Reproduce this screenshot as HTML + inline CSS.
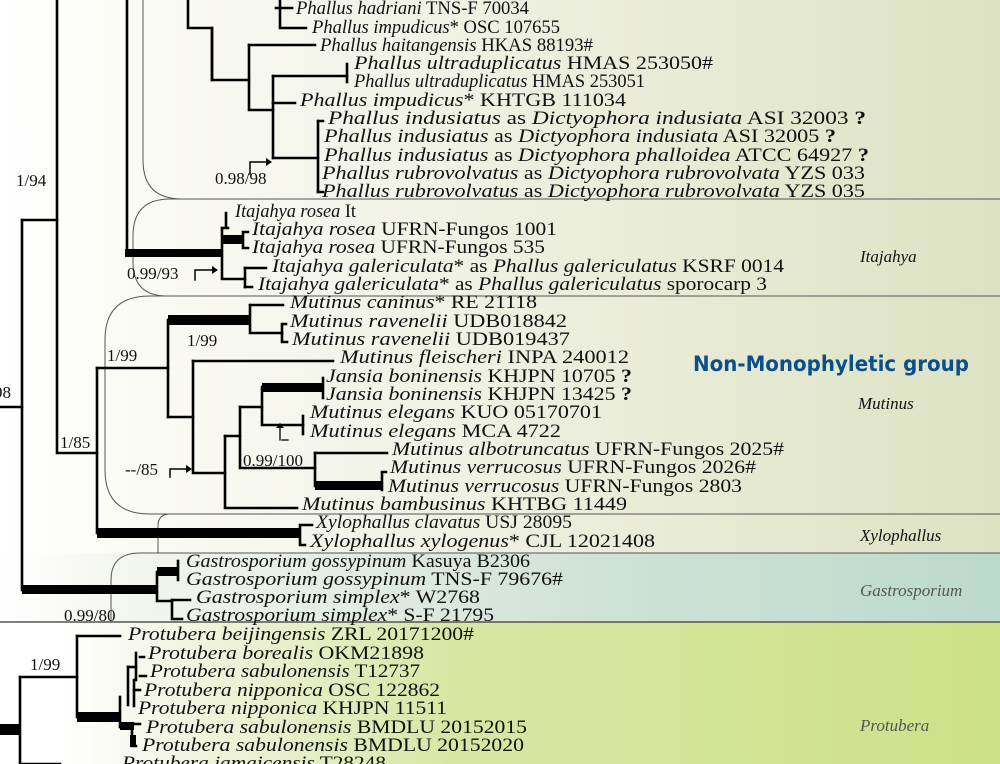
<!DOCTYPE html>
<html><head><meta charset="utf-8"><style>
html,body{margin:0;padding:0;width:1000px;height:764px;overflow:hidden;background:#fff}
svg{display:block}
text{font-family:"Liberation Serif",serif;font-size:19px;fill:#111}
.i{font-style:italic}
.s{font-size:17px}
</style></head><body>
<svg width="1000" height="764" viewBox="0 0 1000 764" xmlns="http://www.w3.org/2000/svg">
<defs>
<linearGradient id="g1" x1="0" x2="1" y1="0" y2="0">
<stop offset="0" stop-color="#ffffff"/><stop offset="0.12" stop-color="#fbfbf6"/><stop offset="1" stop-color="#dde2c3"/></linearGradient>
<linearGradient id="g2" x1="0" x2="1" y1="0" y2="0">
<stop offset="0" stop-color="#ffffff"/><stop offset="0.12" stop-color="#f4f6f0"/><stop offset="0.6" stop-color="#cfe2d6"/><stop offset="1" stop-color="#bcdacc"/></linearGradient>
<linearGradient id="g3" x1="0" x2="1" y1="0" y2="0">
<stop offset="0" stop-color="#ffffff"/><stop offset="0.06" stop-color="#ffffff"/><stop offset="0.18" stop-color="#f2f5e2"/><stop offset="0.45" stop-color="#d8e6a4"/><stop offset="1" stop-color="#cde188"/></linearGradient>
</defs>
<rect x="0" y="0" width="1000" height="553" fill="url(#g1)"/>
<rect x="0" y="553" width="1000" height="69" fill="url(#g2)"/>
<rect x="0" y="622" width="1000" height="142" fill="url(#g3)"/>
<!-- group boxes -->
<g fill="none" stroke="#555" stroke-width="1">
<path d="M143,0 V160 Q143,199 182,199 H1000"/>
<path d="M1000,199 H170 Q133,199 133,236 V262 Q133,296 167,296 H1000"/>
<path d="M1000,296 H150 Q105,296 105,340 V470 Q105,514 150,514 H1000"/>
<path d="M1000,514 H170 Q158,514 158,526 V553"/>
<path d="M1000,553 H140 Q111,553 111,580 V622"/>
<line x1="0" y1="622" x2="1000" y2="622" stroke-width="1.5"/>
</g>
<!-- tree -->
<g stroke="#000" stroke-width="2.6" fill="none" stroke-linecap="square">
<!-- backbone -->
<path d="M57,0 V453 H97"/>
<path d="M22,220 H57"/>
<path d="M22,220 V590"/>
<path d="M0,407 H22"/>
<path d="M127,0 V253"/>
<!-- phallus -->
<path d="M188,0 V28 H212 V80 H249"/>
<path d="M212,28 V80"/>
<path d="M280,0 V28 H306"/>
<path d="M276,8 H292"/>
<path d="M249,45 H315"/>
<path d="M249,45 V110 H273"/>
<path d="M273,76 V158"/>
<path d="M273,76 H347"/>
<path d="M347,64 V82"/>
<path d="M273,103 H295"/>
<path d="M273,158 H318"/>
<path d="M318,121 V192"/>
<path d="M318,121 H323 M318,192 H323"/>
<!-- itajahya -->
<path d="M222,228 V279 H245"/>
<path d="M222,228 H228 M226,213 V228"/>
<path d="M245,268 V287"/>
<path d="M245,268 H266 M245,287 H252"/>
<path d="M243,232 V248 M243,232 H248 M243,248 H248"/>
<!-- mutinus -->
<path d="M97,368 V533"/>
<path d="M97,368 H168 V417"/>
<path d="M168,320 V368"/>
<path d="M250,305 V333 H282"/>
<path d="M250,305 H283"/>
<path d="M282,324 V342 M282,324 H286 M282,342 H287"/>
<path d="M168,417 H193"/>
<path d="M193,361 V473 H225"/>
<path d="M193,361 H333"/>
<path d="M225,436 V508 H297"/>
<path d="M225,436 H240 V468 H315"/>
<path d="M240,407 V436"/>
<path d="M240,407 H262 V425 H303"/>
<path d="M262,387 V407"/>
<path d="M323,378 V398"/>
<path d="M303,416 V434"/>
<path d="M315,453 V486"/>
<path d="M315,453 H387"/>
<path d="M382,472 V490 M382,472 H386"/>
<!-- xylophallus -->
<path d="M300,525 V545 M300,525 H312 M300,545 H305"/>
<!-- gastrosporium -->
<path d="M157,572 V601 H172"/>
<path d="M178,561 V580"/>
<path d="M172,600 V619 H182"/>
<path d="M172,600 H190"/>
<!-- protubera -->
<path d="M20,677 V764"/>
<path d="M20,677 H77 V717"/>
<path d="M77,636 V677"/>
<path d="M77,636 H120"/>
<path d="M120,697 V727"/>
<path d="M128,667 V705"/>
<path d="M128,667 H136"/>
<path d="M136,653 V680"/>
<path d="M140,657 H144 M140,676 H146"/>
<path d="M134,680 V706"/>
<path d="M134,690 H140"/>
<path d="M132,724 V746 M132,724 H140 M132,746 H136"/>
<path d="M20,764 H60"/>
<!-- arrows -->
<path d="M250,174 V162 H266" stroke-width="1.5"/>
<path d="M195,280 V270 H212" stroke-width="1.5"/>
<path d="M170,477 V469 H186" stroke-width="1.5"/>
<path d="M280,440 V428" stroke-width="1.3"/>
<path d="M282,440 H288" stroke-width="1.3"/>
</g>
<!-- thick branches -->
<g fill="#000">
<rect x="125" y="249" width="98" height="8"/>
<rect x="222" y="235" width="22" height="9"/>
<rect x="168" y="315" width="83" height="10"/>
<rect x="262" y="383" width="62" height="9"/>
<rect x="315" y="481" width="68" height="9"/>
<rect x="97" y="528" width="204" height="10"/>
<rect x="22" y="585" width="136" height="9"/>
<rect x="157" y="567" width="22" height="9"/>
<rect x="77" y="712" width="44" height="10"/>
<rect x="0" y="724" width="21" height="11"/>
<rect x="120" y="722" width="14" height="8"/>
<rect x="130" y="735" width="6" height="12"/>
<polygon points="266,158 272,162 266,166"/>
<polygon points="212,266 218,270 212,274"/>
<polygon points="186,465 192,469 186,473"/>
<polygon points="276,428 280,423 284,428"/>
</g>
<!-- support values -->
<text class="s" x="16" y="186">1/94</text>
<text class="s" x="-6" y="398">98</text>
<text class="s" x="215" y="184">0.98/98</text>
<text class="s" x="127" y="279">0.99/93</text>
<text class="s" x="107" y="361">1/99</text>
<text class="s" x="187" y="346">1/99</text>
<text class="s" x="60" y="448">1/85</text>
<text class="s" x="125" y="475">--/85</text>
<text class="s" x="243" y="466">0.99/100</text>
<text class="s" x="64" y="621">0.99/80</text>
<text class="s" x="30" y="670">1/99</text>
<!-- taxa -->
<text x="296" y="14" textLength="233" lengthAdjust="spacingAndGlyphs"><tspan class="i">Phallus hadriani</tspan> TNS-F 70034</text>
<text x="312" y="33" textLength="248" lengthAdjust="spacingAndGlyphs"><tspan class="i">Phallus impudicus</tspan>* OSC 107655</text>
<text x="320" y="51" textLength="273" lengthAdjust="spacingAndGlyphs"><tspan class="i">Phallus haitangensis</tspan> HKAS 88193#</text>
<text x="354" y="69" textLength="359" lengthAdjust="spacingAndGlyphs"><tspan class="i">Phallus ultraduplicatus</tspan> HMAS 253050#</text>
<text x="354" y="87" textLength="291" lengthAdjust="spacingAndGlyphs"><tspan class="i">Phallus ultraduplicatus</tspan> HMAS 253051</text>
<text x="300" y="106" textLength="326" lengthAdjust="spacingAndGlyphs"><tspan class="i">Phallus impudicus</tspan>* KHTGB 111034</text>
<text x="328" y="124" textLength="538" lengthAdjust="spacingAndGlyphs"><tspan class="i">Phallus indusiatus</tspan> as <tspan class="i">Dictyophora indusiata</tspan> ASI 32003 <tspan font-weight="bold">?</tspan></text>
<text x="324" y="142" textLength="512" lengthAdjust="spacingAndGlyphs"><tspan class="i">Phallus indusiatus</tspan> as <tspan class="i">Dictyophora indusiata</tspan> ASI 32005 <tspan font-weight="bold">?</tspan></text>
<text x="324" y="161" textLength="545" lengthAdjust="spacingAndGlyphs"><tspan class="i">Phallus indusiatus</tspan> as <tspan class="i">Dictyophora phalloidea</tspan> ATCC 64927 <tspan font-weight="bold">?</tspan></text>
<text x="322" y="179" textLength="543" lengthAdjust="spacingAndGlyphs"><tspan class="i">Phallus rubrovolvatus</tspan> as <tspan class="i">Dictyophora rubrovolvata</tspan> YZS 033</text>
<text x="322" y="197" textLength="543" lengthAdjust="spacingAndGlyphs"><tspan class="i">Phallus rubrovolvatus</tspan> as <tspan class="i">Dictyophora rubrovolvata</tspan> YZS 035</text>
<text x="235" y="217" textLength="121" lengthAdjust="spacingAndGlyphs"><tspan class="i">Itajahya rosea</tspan> It</text>
<text x="252" y="235" textLength="305" lengthAdjust="spacingAndGlyphs"><tspan class="i">Itajahya rosea</tspan> UFRN-Fungos 1001</text>
<text x="252" y="253" textLength="293" lengthAdjust="spacingAndGlyphs"><tspan class="i">Itajahya rosea</tspan> UFRN-Fungos 535</text>
<text x="272" y="272" textLength="512" lengthAdjust="spacingAndGlyphs"><tspan class="i">Itajahya galericulata</tspan>* as <tspan class="i">Phallus galericulatus</tspan> KSRF 0014</text>
<text x="258" y="290" textLength="509" lengthAdjust="spacingAndGlyphs"><tspan class="i">Itajahya galericulata</tspan>* as <tspan class="i">Phallus galericulatus</tspan> sporocarp 3</text>
<text x="290" y="308" textLength="247" lengthAdjust="spacingAndGlyphs"><tspan class="i">Mutinus caninus</tspan>* RE 21118</text>
<text x="290" y="327" textLength="277" lengthAdjust="spacingAndGlyphs"><tspan class="i">Mutinus ravenelii</tspan> UDB018842</text>
<text x="292" y="345" textLength="278" lengthAdjust="spacingAndGlyphs"><tspan class="i">Mutinus ravenelii</tspan> UDB019437</text>
<text x="340" y="363" textLength="289" lengthAdjust="spacingAndGlyphs"><tspan class="i">Mutinus fleischeri</tspan> INPA 240012</text>
<text x="326" y="382" textLength="306" lengthAdjust="spacingAndGlyphs"><tspan class="i">Jansia boninensis</tspan> KHJPN 10705 <tspan font-weight="bold">?</tspan></text>
<text x="326" y="400" textLength="306" lengthAdjust="spacingAndGlyphs"><tspan class="i">Jansia boninensis</tspan> KHJPN 13425 <tspan font-weight="bold">?</tspan></text>
<text x="310" y="418" textLength="292" lengthAdjust="spacingAndGlyphs"><tspan class="i">Mutinus elegans</tspan> KUO 05170701</text>
<text x="310" y="437" textLength="251" lengthAdjust="spacingAndGlyphs"><tspan class="i">Mutinus elegans</tspan> MCA 4722</text>
<text x="392" y="455" textLength="392" lengthAdjust="spacingAndGlyphs"><tspan class="i">Mutinus albotruncatus</tspan> UFRN-Fungos 2025#</text>
<text x="390" y="473" textLength="366" lengthAdjust="spacingAndGlyphs"><tspan class="i">Mutinus verrucosus</tspan> UFRN-Fungos 2026#</text>
<text x="388" y="492" textLength="354" lengthAdjust="spacingAndGlyphs"><tspan class="i">Mutinus verrucosus</tspan> UFRN-Fungos 2803</text>
<text x="302" y="510" textLength="325" lengthAdjust="spacingAndGlyphs"><tspan class="i">Mutinus bambusinus</tspan> KHTBG 11449</text>
<text x="316" y="528" textLength="256" lengthAdjust="spacingAndGlyphs"><tspan class="i">Xylophallus clavatus</tspan> USJ 28095</text>
<text x="310" y="547" textLength="345" lengthAdjust="spacingAndGlyphs"><tspan class="i">Xylophallus xylogenus</tspan>* CJL 12021408</text>
<text x="186" y="567" textLength="344" lengthAdjust="spacingAndGlyphs"><tspan class="i">Gastrosporium gossypinum</tspan> Kasuya B2306</text>
<text x="186" y="585" textLength="377" lengthAdjust="spacingAndGlyphs"><tspan class="i">Gastrosporium gossypinum</tspan> TNS-F 79676#</text>
<text x="196" y="603" textLength="284" lengthAdjust="spacingAndGlyphs"><tspan class="i">Gastrosporium simplex</tspan>* W2768</text>
<text x="186" y="621" textLength="308" lengthAdjust="spacingAndGlyphs"><tspan class="i">Gastrosporium simplex</tspan>* S-F 21795</text>
<text x="128" y="640" textLength="346" lengthAdjust="spacingAndGlyphs"><tspan class="i">Protubera beijingensis</tspan> ZRL 20171200#</text>
<text x="148" y="659" textLength="276" lengthAdjust="spacingAndGlyphs"><tspan class="i">Protubera borealis</tspan> OKM21898</text>
<text x="150" y="677" textLength="270" lengthAdjust="spacingAndGlyphs"><tspan class="i">Protubera sabulonensis</tspan> T12737</text>
<text x="144" y="696" textLength="296" lengthAdjust="spacingAndGlyphs"><tspan class="i">Protubera nipponica</tspan> OSC 122862</text>
<text x="138" y="714" textLength="309" lengthAdjust="spacingAndGlyphs"><tspan class="i">Protubera nipponica</tspan> KHJPN 11511</text>
<text x="146" y="733" textLength="381" lengthAdjust="spacingAndGlyphs"><tspan class="i">Protubera sabulonensis</tspan> BMDLU 20152015</text>
<text x="142" y="751" textLength="382" lengthAdjust="spacingAndGlyphs"><tspan class="i">Protubera sabulonensis</tspan> BMDLU 20152020</text>
<text x="122" y="769" textLength="264" lengthAdjust="spacingAndGlyphs"><tspan class="i">Protubera jamaicensis</tspan> T28248</text>
<!-- group labels -->
<text class="i s" x="860" y="262" fill="#222">Itajahya</text>
<text class="i s" x="858" y="409" fill="#222">Mutinus</text>
<text class="i s" x="860" y="541" fill="#222">Xylophallus</text>
<text class="i s" x="860" y="596" style="fill:#555">Gastrosporium</text>
<text class="i s" x="860" y="731" style="fill:#555">Protubera</text>
<text x="693" y="371" textLength="276" lengthAdjust="spacingAndGlyphs" style="font-family:'DejaVu Sans','Liberation Sans',sans-serif;font-weight:bold;font-size:21px;fill:#0b4e8c">Non-Monophyletic group</text>
</svg>
</body></html>
